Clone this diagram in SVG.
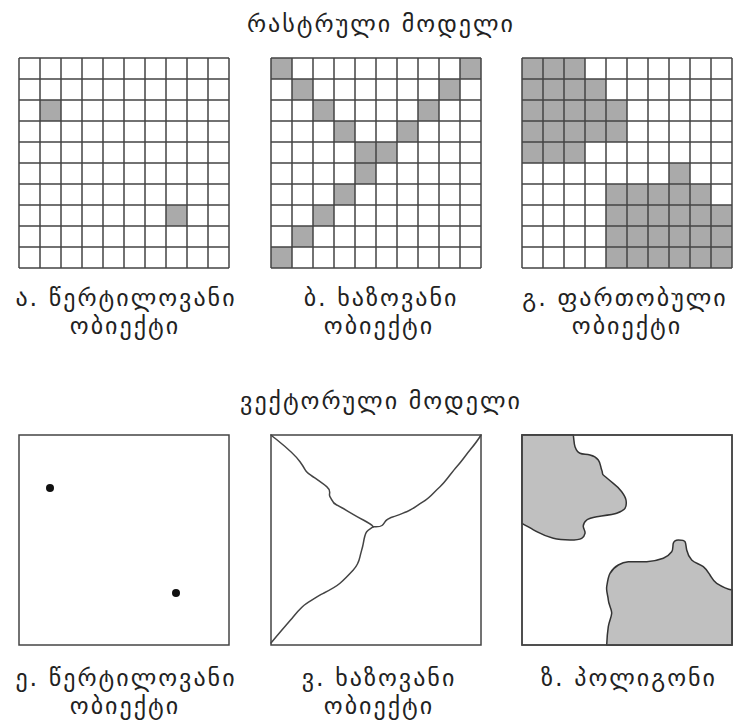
<svg xmlns="http://www.w3.org/2000/svg" xmlns:xlink="http://www.w3.org/1999/xlink" width="737" height="722" viewBox="0 0 737 722">
<style>
.t{font-family:"DejaVu Sans","Noto Sans",sans-serif;font-size:24px;letter-spacing:2px;fill:#222;text-anchor:middle}
.gl{fill:none;stroke:#444;stroke-width:1.5}
.c{fill:#aaaaaa}
.frame{fill:#fff;stroke:#444;stroke-width:1.5}
.ln{fill:none;stroke:#444;stroke-width:1.5;stroke-linejoin:round;stroke-linecap:round}
.poly{fill:#c0c0c0;stroke:#333;stroke-width:1.5;stroke-linejoin:round}
</style>
<defs>
<path id="grid" class="gl" d="M0 0V210M21 0V210M42 0V210M63 0V210M84 0V210M105 0V210M126 0V210M147 0V210M168 0V210M189 0V210M210 0V210M0 0H210M0 21H210M0 42H210M0 63H210M0 84H210M0 105H210M0 126H210M0 147H210M0 168H210M0 189H210M0 210H210"/>
</defs>
<rect width="737" height="722" fill="#fff"/>
<text class="t" x="381" y="32">რასტრული მოდელი</text>
<g id="raster-point" transform="translate(19,58)">
<rect class="c" x="21" y="42" width="21" height="21"/>
<rect class="c" x="147" y="147" width="21" height="21"/>
<use xlink:href="#grid"/>
</g>
<g id="raster-line" transform="translate(271,58)">
<rect class="c" x="0" y="0" width="21" height="21"/>
<rect class="c" x="189" y="0" width="21" height="21"/>
<rect class="c" x="21" y="21" width="21" height="21"/>
<rect class="c" x="168" y="21" width="21" height="21"/>
<rect class="c" x="42" y="42" width="21" height="21"/>
<rect class="c" x="147" y="42" width="21" height="21"/>
<rect class="c" x="63" y="63" width="21" height="21"/>
<rect class="c" x="126" y="63" width="21" height="21"/>
<rect class="c" x="84" y="84" width="42" height="21"/>
<rect class="c" x="84" y="105" width="21" height="21"/>
<rect class="c" x="63" y="126" width="21" height="21"/>
<rect class="c" x="42" y="147" width="21" height="21"/>
<rect class="c" x="21" y="168" width="21" height="21"/>
<rect class="c" x="0" y="189" width="21" height="21"/>
<use xlink:href="#grid"/>
</g>
<g id="raster-area" transform="translate(522,58)">
<rect class="c" x="0" y="0" width="63" height="21"/>
<rect class="c" x="0" y="21" width="84" height="21"/>
<rect class="c" x="0" y="42" width="105" height="42"/>
<rect class="c" x="0" y="84" width="63" height="21"/>
<rect class="c" x="147" y="105" width="21" height="21"/>
<rect class="c" x="84" y="126" width="105" height="21"/>
<rect class="c" x="84" y="147" width="126" height="63"/>
<use xlink:href="#grid"/>
</g>
<g id="label-a"><text class="t" x="126" y="306">ა. წერტილოვანი</text><text class="t" x="125" y="334">ობიექტი</text></g>
<g id="label-b"><text class="t" x="381" y="306">ბ. ხაზოვანი</text><text class="t" x="379" y="334">ობიექტი</text></g>
<g id="label-g"><text class="t" x="625" y="306">გ. ფართობული</text><text class="t" x="627" y="334">ობიექტი</text></g>
<text class="t" x="381" y="409">ვექტორული მოდელი</text>
<g id="vector-point">
<rect class="frame" x="19" y="435" width="210" height="210"/>
<circle cx="50" cy="488" r="4" fill="#111"/>
<circle cx="176" cy="593" r="4" fill="#111"/>
</g>
<g id="vector-line">
<rect class="frame" x="271" y="435" width="210" height="210"/>
<path class="ln" d="M271 435C282 444 293 452 300 461.7S304 470 308.3 473.3S321 482 326.7 486.7S328 494 330 496.7S332 503 336.7 505S352 514 363.3 520S371 525 373.3 526.7"/>
<path class="ln" d="M373.3 526.7C377 527 380 527 382 525.5S385 521 386.7 520S391 517 393.3 516.7S401 514 406.7 511.7S416 506 423.3 501.7S434 492 440 486.7S451 473 456.7 466.7S465 456 470 450S478 440 481 435"/>
<path class="ln" d="M373.3 526.7C370 529 368 530 366.7 531.7S364 539 363.3 543.3S361 552 360 556.7S357 566 353.3 570S345 579 340 583.3S330 590 323.3 593.3S312 600 306.7 603.3S298 611 293.3 616.7S280 632 271 643"/>
</g>
<g id="vector-polygon">
<rect class="frame" x="522" y="435" width="210" height="210"/>
<path class="poly" d="M522 435H573.3C574 440 574 444 575 446.7S577 452 580 453.3S586 454 590 455S596 457 598.3 460S600.5 467 601.7 470S602 474 603.3 475S609 480 613.3 483.3S619 488 621.7 491.7S625.5 497 626 500S626.5 506 625 508.3S620 512 616.7 513.3S601 516 596.7 516.7S589 518 586.7 520S583 524 583.3 526.7S585.5 531 585 533.3S584 537 581.7 538.3S574 540 570 540S558 539.5 553.3 538.3S541 534 536.7 531.7S526 525.5 522 523.3Z"/>
<path class="poly" d="M606.7 645C607 638 607.5 632 608.3 626.7S611.5 617 611.7 613.3S608.5 604 608.3 600S606 591 606.7 586.7S608 577 610 573.3S615 567 618.3 565S624 562 628.3 561.7S641 562 646.7 561.7S659 560 663.3 558.3S670 554 671.7 551.7S672.5 546 673.3 543.3S676 540 678.3 540S684 540 685 541.7S686 547 686.7 550S689 557 691.7 560S700 564 703.3 566.7S708 572 710 575S713 581 716.7 583.3S726 589 732 590V645Z"/>
<rect x="522" y="435" width="210" height="210" fill="none" stroke="#444" stroke-width="1.5"/>
</g>
<g id="label-e"><text class="t" x="126" y="686">ე. წერტილოვანი</text><text class="t" x="125" y="714">ობიექტი</text></g>
<g id="label-v"><text class="t" x="379" y="686">ვ. ხაზოვანი</text><text class="t" x="379" y="714">ობიექტი</text></g>
<g id="label-z"><text class="t" x="629" y="686">ზ. პოლიგონი</text></g>
</svg>
